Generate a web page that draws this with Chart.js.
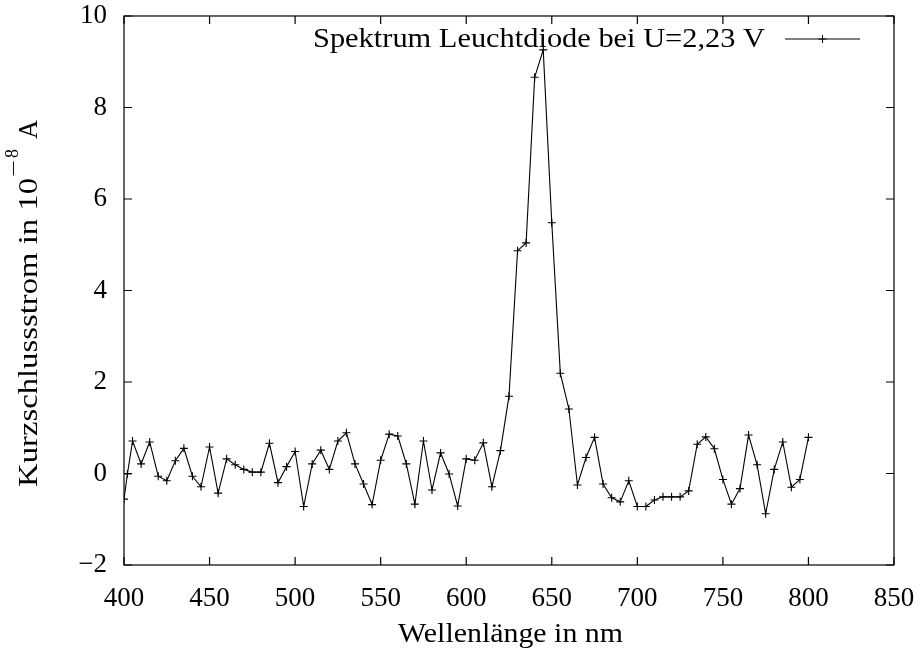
<!DOCTYPE html>
<html>
<head>
<meta charset="utf-8">
<script src="https://cdn.jsdelivr.net/npm/chart.js@4/dist/chart.umd.min.js"></script>
<style>
  body { margin: 0; background: #fff; }
  #wrap { width: 921px; height: 652px; position: relative; }
</style>
</head>
<body>
<div id="wrap"><canvas id="spektrum"></canvas></div>
<script>
// Messwerte: Wellenlaenge in nm, Kurzschlussstrom in 10^-8 A
const wellenlaenge = [
  400, 402, 405, 410, 415, 420, 425, 430, 435, 440, 445, 450, 455, 460, 465, 470,
  475, 480, 485, 490, 495, 500, 505, 510, 515, 520, 525, 530, 535, 540, 545, 550,
  555, 560, 565, 570, 575, 580, 585, 590, 595, 600, 605, 610, 615, 620, 625, 630,
  635, 640, 645, 650, 655, 660, 665, 670, 675, 680, 685, 690, 695, 700, 705, 710,
  715, 720, 725, 730, 735, 740, 745, 750, 755, 760, 765, 770, 775, 780, 785, 790,
  795, 800
];
const strom = [
  -0.56, -0.01, 0.71, 0.21, 0.69, -0.06, -0.16, 0.28, 0.55, -0.06, -0.29, 0.58, -0.43, 0.32, 0.19, 0.09,
  0.03, 0.03, 0.66, -0.20, 0.15, 0.48, -0.72, 0.21, 0.51, 0.09, 0.71, 0.89, 0.21, -0.23, -0.68, 0.29,
  0.86, 0.82, 0.21, -0.67, 0.71, -0.36, 0.45, -0.01, -0.71, 0.32, 0.29, 0.67, -0.29, 0.50, 1.69, 4.87,
  5.04, 8.66, 9.26, 5.48, 2.19, 1.41, -0.25, 0.35, 0.79, -0.23, -0.53, -0.62, -0.16, -0.72, -0.72, -0.58,
  -0.51, -0.51, -0.51, -0.38, 0.64, 0.80, 0.54, -0.13, -0.67, -0.33, 0.84, 0.19, -0.88, 0.09, 0.69, -0.30,
  -0.13, 0.79
];
const xTicks = [400, 450, 500, 550, 600, 650, 700, 750, 800, 850];
const yTicks = [-2, 0, 2, 4, 6, 8, 10];

const legendText = "Spektrum Leuchtdiode bei U=2,23 V";
const fontFam = "'Liberation Serif', 'DejaVu Serif', serif";
const fontSize = 27;
const bigFont = fontSize + "px " + fontFam;
const supFont = "19px " + fontFam;

// Text auf eine Zielbreite ziehen (Computer Modern ist breiter als Times)
function fitText(ctx, txt, x0, y, width) {
  const s = width / ctx.measureText(txt).width;
  ctx.save();
  ctx.translate(x0, y);
  ctx.scale(s, 1);
  ctx.textAlign = "left";
  ctx.fillText(txt, 0, 0);
  ctx.restore();
}

// gnuplot-artiger Rahmen mit Ticks nach innen + Beschriftungen
const frame = {
  id: "frame",
  afterDraw(chart) {
    const { ctx, chartArea: a, scales: { x, y } } = chart;
    ctx.save();
    ctx.strokeStyle = "#000";
    ctx.lineWidth = 1.2;
    ctx.strokeRect(a.left, a.top, a.right - a.left, a.bottom - a.top);

    const tl = 8;
    ctx.beginPath();
    xTicks.forEach(v => {
      const px = x.getPixelForValue(v);
      ctx.moveTo(px, a.bottom); ctx.lineTo(px, a.bottom - tl);
      ctx.moveTo(px, a.top); ctx.lineTo(px, a.top + tl);
    });
    yTicks.forEach(v => {
      const py = y.getPixelForValue(v);
      ctx.moveTo(a.left, py); ctx.lineTo(a.left + tl, py);
      ctx.moveTo(a.right, py); ctx.lineTo(a.right - tl, py);
    });
    ctx.stroke();

    ctx.fillStyle = "#000";
    ctx.textBaseline = "alphabetic";
    ctx.font = bigFont;

    // x-Achsentitel
    fitText(ctx, "Wellenlänge in nm", 398, 642, 225);

    // y-Achsentitel mit Exponent (gedreht, Grundlinie bei x=37)
    ctx.save();
    ctx.translate(37, 0);
    ctx.rotate(-Math.PI / 2);
    ctx.font = bigFont;
    fitText(ctx, "Kurzschlussstrom in 10", -487, 0, 309);
    ctx.font = supFont;
    fitText(ctx, "−", -177, -17, 17);
    fitText(ctx, "8", -158, -19, 9);
    ctx.font = bigFont;
    fitText(ctx, "A", -139, 0, 19);
    ctx.restore();

    // Legende oben rechts
    const ly = 39;
    ctx.font = bigFont;
    fitText(ctx, legendText, 313, 47, 452);
    ctx.lineWidth = 1;
    ctx.beginPath();
    ctx.moveTo(785, ly); ctx.lineTo(860, ly);
    ctx.moveTo(818.5, ly); ctx.lineTo(826.5, ly);
    ctx.moveTo(822.5, ly - 4); ctx.lineTo(822.5, ly + 4);
    ctx.stroke();
    ctx.restore();
  }
};

new Chart(document.getElementById("spektrum"), {
  type: "line",
  data: {
    datasets: [{
      label: legendText,
      data: wellenlaenge.map((w, i) => ({ x: w, y: strom[i] })),
      borderColor: "#000",
      borderWidth: 1.1,
      pointStyle: "cross",
      pointRadius: 4,
      pointBorderColor: "#000",
      pointBorderWidth: 1.1,
      tension: 0,
      fill: false
    }]
  },
  options: {
    responsive: true,
    maintainAspectRatio: false,
    animation: false,
    layout: { padding: { left: 0, right: 27, top: 16, bottom: 0 } },
    plugins: { legend: { display: false }, tooltip: { enabled: false } },
    scales: {
      x: {
        type: "linear",
        min: 400, max: 850,
        afterFit: s => { s.height = 87; s.paddingLeft = 0; s.paddingRight = 0; },
        afterBuildTicks: s => { s.ticks = xTicks.map(v => ({ value: v })); },
        grid: { display: false, drawTicks: false },
        border: { display: false },
        ticks: { color: "#000", padding: 18, maxRotation: 0,
                 font: { family: fontFam, size: fontSize } }
      },
      y: {
        min: -2, max: 10,
        afterFit: s => { s.width = 124; s.paddingTop = 0; s.paddingBottom = 0; },
        afterBuildTicks: s => { s.ticks = yTicks.map(v => ({ value: v })); },
        grid: { display: false, drawTicks: false },
        border: { display: false },
        ticks: { color: "#000", padding: 17,
                 callback: v => v < 0 ? "−" + Math.abs(v) : String(v),
                 font: { family: fontFam, size: fontSize } }
      }
    }
  },
  plugins: [frame]
});
</script>
</body>
</html>
